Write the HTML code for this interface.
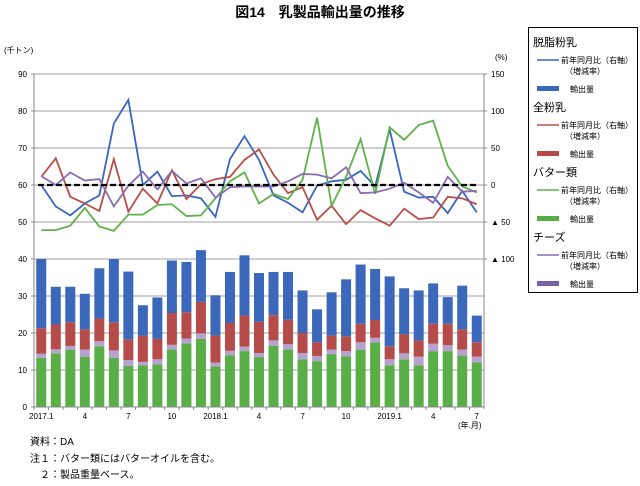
<!DOCTYPE html>
<html><head><meta charset="utf-8"><style>
body{margin:0;background:#fff;width:640px;height:481px;overflow:hidden;font-family:"Liberation Sans","Noto Sans CJK JP",sans-serif;}
svg text{font-family:"Liberation Sans","Noto Sans CJK JP",sans-serif;}
</style></head><body>
<svg id="chart" width="640" height="481" viewBox="0 0 640 481" xmlns="http://www.w3.org/2000/svg">
<text x="320" y="17" text-anchor="middle" font-size="14" font-weight="bold">図14　乳製品輸出量の推移</text>
<text x="4" y="53" font-size="8">(千トン)</text>
<text x="495" y="60" font-size="8">(%)</text>
<g id="grid"></g><g id="bars"></g><g id="lines"></g><g id="axes"></g>
<text x="458" y="428" font-size="8">(年.月)</text>
<text x="30" y="445" font-size="10">資料：DA</text>
<text x="30" y="462" font-size="10">注１：バター類にはバターオイルを含む。</text>
<text x="30" y="478" font-size="10">　２：製品重量ベース。</text>
<g>
<rect x="528.5" y="27.5" width="109" height="265" fill="#fff" stroke="#000" stroke-width="1"/>
<g id="legend-items"></g>
</g>
</svg>
<script>
const months=["2017.1","","","4","","","7","","","10","","","2018.1","","","4","","","7","","","10","","","2019.1","","","4","","","7"];
const leftTicks=[0,10,20,30,40,50,60,70,80,90];
const rightTicks=[150,100,50,0,-50,-100];
const butterVol=[13.3,14.5,15.5,13.6,16.4,13.3,11.1,11.3,11.5,15.6,17.2,18.4,11,14,15.1,13.5,16.5,15.6,12.9,12.4,14.3,13.7,15.5,17.5,11.3,12.9,11.3,15,15.1,13.9,12.1];
const cheeseVol=[1.1,1.1,1,1.9,1.4,2,1.6,0.9,1.4,1.2,1.3,1.5,1,1.2,1.2,1.1,1.5,1.4,1.7,1.4,1.2,1.4,2,1.2,1.6,1.6,2.3,2.1,1.6,1.6,1.5];
const wholeVol=[6.9,6.7,6.4,5.5,6.1,7.6,5.6,7.1,5.5,8.6,7.1,8.5,7.3,7.5,8.4,8.4,6.8,6.6,5.4,3.7,3.8,4,5,4.8,3.5,5.2,4.4,5.4,5.8,5.5,3.9];
const skimVol=[18.7,10.2,9.6,9.6,13.6,17.1,18.3,8.2,11.2,14.2,13.6,14,10.9,13.8,16.3,13.2,11.7,12.9,11.5,8.9,11.7,15.4,16,13.8,18.9,12.4,13.5,10.9,7.2,11.8,7.2];
const skimYoY=[0,-29,-41,-25,-14,83,115,0,18,-15,-14,-18,-43,35,66,34,-14,-24,-37,-1,5,7,19,-2,75,-9,-17,-16,-38,-8,-37];
const wholeYoY=[11,36,-16,-25,-35,35,-36,-5,-25,20,-19,1,8,11,34,48,14,-11,-3,-47,-28,-53,-34,-45,-55,-32,-46,-44,-16,-18,-26];
const butterYoY=[-61,-61,-55,-31,-56,-62,-40,-40,-27,-26,-42,-41,-18,5,17,-25,-12,-19,7,91,-28,11,62,-12,78,61,81,87,26,-2,-10];
const cheeseYoY=[12,0,17,6,8,-29,-1,18,-6,19,2,9,-17,-3,-2,-2,-2,5,15,14,9,24,-11,-10,-5,3,-10,-24,11,-9,-8];

const NS="http://www.w3.org/2000/svg";
const X0=34,X1=484,Y0=407,Y90=74;
const band=(X1-X0)/months.length;
const xc=i=>X0+band*(i+0.5);
const yL=v=>Y0-(Y0-Y90)*v/90;
const yR=v=>185-v*0.74;
function mk(tag,attrs,parent){const e=document.createElementNS(NS,tag);for(const k in attrs)e.setAttribute(k,attrs[k]);parent.appendChild(e);return e;}
const grid=document.getElementById('grid'),bars=document.getElementById('bars'),lines=document.getElementById('lines'),axes=document.getElementById('axes');
leftTicks.forEach(t=>{
 if(t>0){const l=mk('line',{x1:X0,x2:X1,y1:yL(t),y2:yL(t),stroke:'#a0a0a0','stroke-width':1},grid);
 
 }
 const tx=mk('text',{x:27,y:yL(t)+3,'text-anchor':'end','font-size':8},axes);tx.textContent=t;
 
 
 mk('line',{x1:X0-3,x2:X0,y1:yL(t),y2:yL(t),stroke:'#888'},axes);
});
rightTicks.forEach(t=>{
 const tx=mk('text',{x:491,y:yR(t)+3,'font-size':8},axes);tx.textContent=(t<0?'▲ '+(-t):t);
 
 
 mk('line',{x1:X1,x2:X1+3,y1:yR(t),y2:yR(t),stroke:'#888'},axes);
});
mk('line',{x1:X0,x2:X0,y1:Y90,y2:Y0,stroke:'#888'},axes);
mk('line',{x1:X1,x2:X1,y1:Y90,y2:Y0+2,stroke:'#888'},axes);
mk('line',{x1:X0,x2:X1,y1:Y0,y2:Y0,stroke:'#888'},axes);
months.forEach((m,i)=>{
 mk('line',{x1:X0+band*i,x2:X0+band*i,y1:Y0,y2:Y0+3,stroke:'#888'},axes);
 if(m){const tx=mk('text',{x:xc(i),y:419,'text-anchor':'middle','font-size':8},axes);tx.textContent=m;
 
 }
});
const series=[[butterVol,'#5aae48','butter-bar'],[cheeseVol,'#b6a2cf','cheese-bar'],[wholeVol,'#b54c4a','whole-milk-bar'],[skimVol,'#3b68bb','skim-milk-bar']];
const bw=10;
months.forEach((m,i)=>{
 let base=0;
 series.forEach(s=>{
  const v=s[0][i];
  const r=mk('rect',{x:xc(i)-bw/2,y:yL(base+v),width:bw,height:yL(base)-yL(base+v),fill:s[1]},bars);
  
  
  base+=v;
 });
});
const zl=mk('line',{x1:X0+4,x2:X1-6,y1:yR(0),y2:yR(0),stroke:'#000','stroke-width':2.2,'stroke-dasharray':'6,3'},lines);


const ls=[[skimYoY,'#3a66c0','skim-yoy-line'],[wholeYoY,'#b8504a','whole-yoy-line'],[butterYoY,'#5fb24a','butter-yoy-line'],[cheeseYoY,'#8a6cb4','cheese-yoy-line']];
ls.forEach(s=>{
 const p=mk('polyline',{points:s[0].map((v,i)=>xc(i)+','+yR(v)).join(' '),fill:'none',stroke:s[1],'stroke-width':1.8},lines);
 
 
});
lines.appendChild(zl);
const leg=document.getElementById('legend-items');
const groups=[['脱脂粉乳','#3a66c0','#3b68bb'],['全粉乳','#b8504a','#b54c4a'],['バター類','#5fb24a','#5aae48'],['チーズ','#8a6cb4','#7a62a8']];
groups.forEach((g,k)=>{
 const y=27+k*65;
 const t=mk('text',{x:533,y:y+19,'font-size':11},leg);t.textContent=g[0];
 
 
 mk('line',{x1:537,x2:559,y1:y+33,y2:y+33,stroke:g[1],'stroke-width':1.5},leg);
 const a=mk('text',{x:561,y:y+36,'font-size':8},leg);a.textContent='前年同月比（右軸）';
 
 
 const b=mk('text',{x:565,y:y+47,'font-size':8},leg);b.textContent='（増減率）';
 
 
 mk('rect',{x:537,y:y+59,width:22,height:5,fill:g[2]},leg);
 const c=mk('text',{x:570,y:y+65,'font-size':8},leg);c.textContent='輸出量';
 
 
});
</script>
</body></html>
